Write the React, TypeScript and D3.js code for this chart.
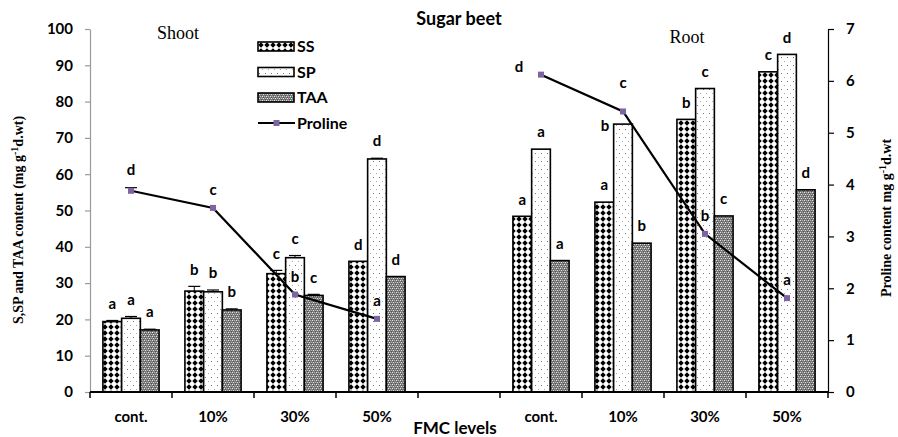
import React, { useRef, useEffect } from 'react';
import * as d3 from 'd3';

// x slots: shoot levels, an empty gap, then root levels
const slots = ['cont.', '10%', '30%', '50%', '', 'cont.', '10%', '30%', '50%'];
const series = ['SS', 'SP', 'TAA'];

// shoot then root (4 + 4), gap slot skipped
const ssValues = [19.4, 27.8, 32.6, 36.0, 48.4, 52.3, 75.1, 88.2];
const spValues = [20.3, 27.6, 37.0, 64.2, 66.9, 73.8, 83.6, 93.0];
const taaValues = [17.1, 22.6, 26.6, 31.8, 36.2, 41.0, 48.5, 55.7];
const ssErr = [0.3, 1.3, 0.9, 0, 0, 0, 0, 0];
const spErr = [0.5, 0.5, 0.6, 0.2, 0, 0, 0, 0];
const taaErr = [0.2, 0.3, 0.3, 0, 0, 0, 0, 0];
const prolineValues = [3.88, 3.55, 1.88, 1.41, 6.12, 5.41, 3.05, 1.81];
const prolineErr = [0.06, 0, 0, 0, 0, 0, 0, 0];

const ssLetters = ['a', 'b', 'c', 'd', 'a', 'a', 'b', 'c'];
const spLetters = ['a', 'b', 'c', 'd', 'a', 'b', 'c', 'd'];
const taaLetters = ['a', 'b', 'c', 'd', 'a', 'b', 'c', 'd'];
const prolineLetters = ['d', 'c', 'b', 'a', 'd', 'c', 'b', 'a'];

const leftTicks = [0, 10, 20, 30, 40, 50, 60, 70, 80, 90, 100];
const rightTicks = [0, 1, 2, 3, 4, 5, 6, 7];

// label nudges [dx, dy] where the original moved a letter aside
const spLetterNudge: Record<number, [number, number]> = { 5: [-18, 19] };
const prolineLetterNudge: Record<number, [number, number]> = { 4: [-22, 10], 5: [0, -11] };

const SANS = 'Lato, "Open Sans", sans-serif';
const SERIF = '"Liberation Serif", "Times New Roman", serif';

const slotOf = (i: number) => (i < 4 ? i : i + 1);

const App = () => {
    const ref = useRef<SVGSVGElement>(null);

    useEffect(() => {
        if (!ref.current) return;
        const svg = d3.select(ref.current);
        svg.selectAll('*').remove();

        const left = 90, right = 828, top = 29, bottom = 392;

        const x = d3.scaleBand<number>().domain(d3.range(slots.length)).range([left, right]).padding(0);
        const x1 = d3.scaleBand<string>().domain(series).range([0, x.bandwidth()]).paddingInner(0).paddingOuter(0.69);
        const y = d3.scaleLinear().domain([0, 100]).range([bottom, top]);
        const y2 = d3.scaleLinear().domain([0, 7]).range([bottom, top]);

        // patterns
        const defs = svg.append('defs');
        const pSS = defs.append('pattern').attr('id', 'pSS').attr('patternUnits', 'userSpaceOnUse')
            .attr('width', 6).attr('height', 6);
        pSS.append('rect').attr('width', 6).attr('height', 6).attr('fill', '#fff');
        pSS.append('path').attr('d', 'M3,0.3 L5.7,3 L3,5.7 L0.3,3 Z').attr('fill', '#000');

        const pSP = defs.append('pattern').attr('id', 'pSP').attr('patternUnits', 'userSpaceOnUse')
            .attr('width', 6).attr('height', 8);
        pSP.append('rect').attr('width', 6).attr('height', 8).attr('fill', '#fff');
        pSP.append('rect').attr('x', 1).attr('y', 1).attr('width', 1).attr('height', 1).attr('fill', '#777');
        pSP.append('rect').attr('x', 4).attr('y', 5).attr('width', 1).attr('height', 1).attr('fill', '#aaa');

        const pTAA = defs.append('pattern').attr('id', 'pTAA').attr('patternUnits', 'userSpaceOnUse')
            .attr('width', 4).attr('height', 4);
        pTAA.append('rect').attr('width', 4).attr('height', 4).attr('fill', '#7a7a7a');
        [[0, 0], [2, 0], [1, 2], [3, 2]].forEach(([a, b], k) => {
            pTAA.append('rect').attr('x', a).attr('y', b).attr('width', 1).attr('height', 1)
                .attr('fill', k % 2 ? '#b8b8b8' : '#e6e6e6');
        });
        [[1, 1], [3, 3]].forEach(([a, b]) => {
            pTAA.append('rect').attr('x', a).attr('y', b).attr('width', 1).attr('height', 1).attr('fill', '#505050');
        });

        const fills: Record<string, string> = { SS: 'url(#pSS)', SP: 'url(#pSP)', TAA: 'url(#pTAA)' };
        const vals: Record<string, number[]> = { SS: ssValues, SP: spValues, TAA: taaValues };
        const errs: Record<string, number[]> = { SS: ssErr, SP: spErr, TAA: taaErr };
        const letters: Record<string, string[]> = { SS: ssLetters, SP: spLetters, TAA: taaLetters };

        // left axis
        const gl = svg.append('g').attr('transform', `translate(${left},0)`)
            .call(d3.axisLeft(y).tickValues(leftTicks).tickFormat(d3.format('d')).tickSize(5).tickSizeOuter(0).tickPadding(12));
        gl.selectAll('path, line').attr('stroke', '#9a9a9a').attr('stroke-width', 1.2);
        gl.selectAll('text').attr('font-family', SANS).attr('font-weight', 'bold').attr('font-size', 15).attr('fill', '#000');

        // right axis
        const gr = svg.append('g').attr('transform', `translate(${right},0)`)
            .call(d3.axisRight(y2).tickValues(rightTicks).tickFormat(d3.format('d')).tickSize(6).tickSizeOuter(0).tickPadding(12));
        gr.selectAll('path, line').attr('stroke', '#000').attr('stroke-width', 1.2);
        gr.selectAll('text').attr('font-family', SANS).attr('font-weight', 'bold').attr('font-size', 15).attr('fill', '#000');

        // bars
        const rows = ssValues.map((_, i) => i);
        series.forEach(s => {
            const g = svg.append('g');
            g.selectAll('rect').data(rows).join('rect')
                .attr('x', i => (x(slotOf(i)) as number) + (x1(s) as number))
                .attr('y', i => y(vals[s][i]))
                .attr('width', x1.bandwidth())
                .attr('height', i => y(0) - y(vals[s][i]))
                .attr('fill', fills[s])
                .attr('stroke', '#000')
                .attr('stroke-width', 1.6);

            // error bars
            const withErr = rows.filter(i => errs[s][i] > 0);
            const cx = (i: number) => (x(slotOf(i)) as number) + (x1(s) as number) + x1.bandwidth() / 2;
            g.selectAll('line.err').data(withErr).join('line').attr('class', 'err')
                .attr('x1', cx).attr('x2', cx)
                .attr('y1', i => y(vals[s][i])).attr('y2', i => y(vals[s][i] + errs[s][i]))
                .attr('stroke', '#000').attr('stroke-width', 1);
            g.selectAll('line.cap').data(withErr).join('line').attr('class', 'cap')
                .attr('x1', i => cx(i) - 6).attr('x2', i => cx(i) + 6)
                .attr('y1', i => y(vals[s][i] + errs[s][i])).attr('y2', i => y(vals[s][i] + errs[s][i]))
                .attr('stroke', '#000').attr('stroke-width', 1.2);

            // significance letters
            g.selectAll('text').data(rows).join('text')
                .attr('x', i => cx(i) + (s === 'SP' && spLetterNudge[i] ? spLetterNudge[i][0] : 0))
                .attr('y', i => y(vals[s][i] + errs[s][i]) - 17 + (s === 'SP' && spLetterNudge[i] ? spLetterNudge[i][1] : 0))
                .attr('dy', '0.35em')
                .attr('text-anchor', 'middle')
                .attr('font-family', SANS).attr('font-weight', 'bold').attr('font-size', 15)
                .text(i => letters[s][i]);
        });

        // bottom axis
        const gb = svg.append('g').attr('transform', `translate(0,${bottom})`);
        gb.append('line').attr('x1', left).attr('x2', right).attr('stroke', '#000').attr('stroke-width', 2);
        const edges = [...x.domain().map(i => x(i) as number), right];
        gb.selectAll('line.tick').data(edges).join('line').attr('class', 'tick')
            .attr('x1', d => d).attr('x2', d => d).attr('y1', 0).attr('y2', 6)
            .attr('stroke', '#000').attr('stroke-width', 1.5);
        gb.selectAll('text').data(slots).join('text')
            .attr('x', (_, i) => (x(i) as number) + x.bandwidth() / 2)
            .attr('y', 25).attr('dy', '0.35em')
            .attr('text-anchor', 'middle')
            .attr('font-family', SANS).attr('font-weight', 'bold').attr('font-size', 15)
            .text(d => d);

        // proline lines (shoot and root separately)
        const px = (i: number) => (x(slotOf(i)) as number) + x.bandwidth() / 2;
        const line = d3.line<number>().x(px).y(i => y2(prolineValues[i]));
        [[0, 1, 2, 3], [4, 5, 6, 7]].forEach(seg => {
            svg.append('path').datum(seg).attr('d', line).attr('fill', 'none')
                .attr('stroke', '#000').attr('stroke-width', 2.2);
        });
        const withPErr = rows.filter(i => prolineErr[i] > 0);
        svg.selectAll('line.perr').data(withPErr).join('line').attr('class', 'perr')
            .attr('x1', i => px(i) - 6).attr('x2', i => px(i) + 6)
            .attr('y1', i => y2(prolineValues[i] + prolineErr[i])).attr('y2', i => y2(prolineValues[i] + prolineErr[i]))
            .attr('stroke', '#000').attr('stroke-width', 1.2);
        svg.selectAll('rect.pt').data(rows).join('rect').attr('class', 'pt')
            .attr('x', i => px(i) - 3).attr('y', i => y2(prolineValues[i]) - 3)
            .attr('width', 6).attr('height', 6).attr('fill', '#8064a2');
        svg.selectAll('text.pl').data(rows).join('text').attr('class', 'pl')
            .attr('x', i => px(i) + (prolineLetterNudge[i] ? prolineLetterNudge[i][0] : 0))
            .attr('y', i => y2(prolineValues[i] + prolineErr[i]) - 18 + (prolineLetterNudge[i] ? prolineLetterNudge[i][1] : 0))
            .attr('dy', '0.35em')
            .attr('text-anchor', 'middle')
            .attr('font-family', SANS).attr('font-weight', 'bold').attr('font-size', 15)
            .text(i => prolineLetters[i]);

        // titles
        svg.append('text').attr('x', 459).attr('y', 19).attr('dy', '0.35em').attr('text-anchor', 'middle')
            .attr('font-family', SANS).attr('font-weight', 'bold').attr('font-size', 18).text('Sugar beet');
        svg.append('text').attr('x', 178).attr('y', 33).attr('dy', '0.35em').attr('text-anchor', 'middle')
            .attr('font-family', SERIF).attr('font-size', 18).text('Shoot');
        svg.append('text').attr('x', 687).attr('y', 37).attr('dy', '0.35em').attr('text-anchor', 'middle')
            .attr('font-family', SERIF).attr('font-size', 18).text('Root');
        svg.append('text').attr('x', 455).attr('y', 428).attr('dy', '0.35em').attr('text-anchor', 'middle')
            .attr('font-family', SANS).attr('font-weight', 'bold').attr('font-size', 17).text('FMC levels');

        const yl = svg.append('text').attr('transform', 'translate(23,220) rotate(-90)').attr('text-anchor', 'middle')
            .attr('font-family', SERIF).attr('font-weight', 'bold').attr('font-size', 14);
        yl.append('tspan').text('S,SP and TAA  content (mg g');
        yl.append('tspan').attr('dy', -5).attr('font-size', 10).text('-1');
        yl.append('tspan').attr('dy', 5).text('d.wt)');

        const yr = svg.append('text').attr('transform', 'translate(891,218) rotate(-90)').attr('text-anchor', 'middle')
            .attr('font-family', SERIF).attr('font-weight', 'bold').attr('font-size', 14);
        yr.append('tspan').text('Proline content mg g');
        yr.append('tspan').attr('dy', -5).attr('font-size', 10).text('-1');
        yr.append('tspan').attr('dy', 5).text('d.wt');

        // legend
        const lg = svg.append('g').attr('transform', 'translate(258,0)');
        const legendRows = [...series, 'Proline'];
        legendRows.forEach((name, k) => {
            const cy = 46.5 + k * 25.5;
            if (name === 'Proline') {
                lg.append('line').attr('x1', 0).attr('x2', 37).attr('y1', cy).attr('y2', cy)
                    .attr('stroke', '#000').attr('stroke-width', 2.2);
                lg.append('rect').attr('x', 15.5).attr('y', cy - 3).attr('width', 6).attr('height', 6).attr('fill', '#8064a2');
            } else {
                lg.append('rect').attr('x', 0).attr('y', cy - 4.5).attr('width', 36).attr('height', 9)
                    .attr('fill', fills[name]).attr('stroke', '#000').attr('stroke-width', 1.6);
            }
            lg.append('text').attr('x', 39).attr('y', cy).attr('dy', '0.35em')
                .attr('font-family', SANS).attr('font-weight', 'bold').attr('font-size', 16).text(name);
        });
    }, []);

    return (
        <div>
            <style>{`body{margin:0}`}</style>
            <svg ref={ref} width={898} height={437} style={{ display: 'block', background: '#fff' }} />
        </div>
    );
};

export default App;
